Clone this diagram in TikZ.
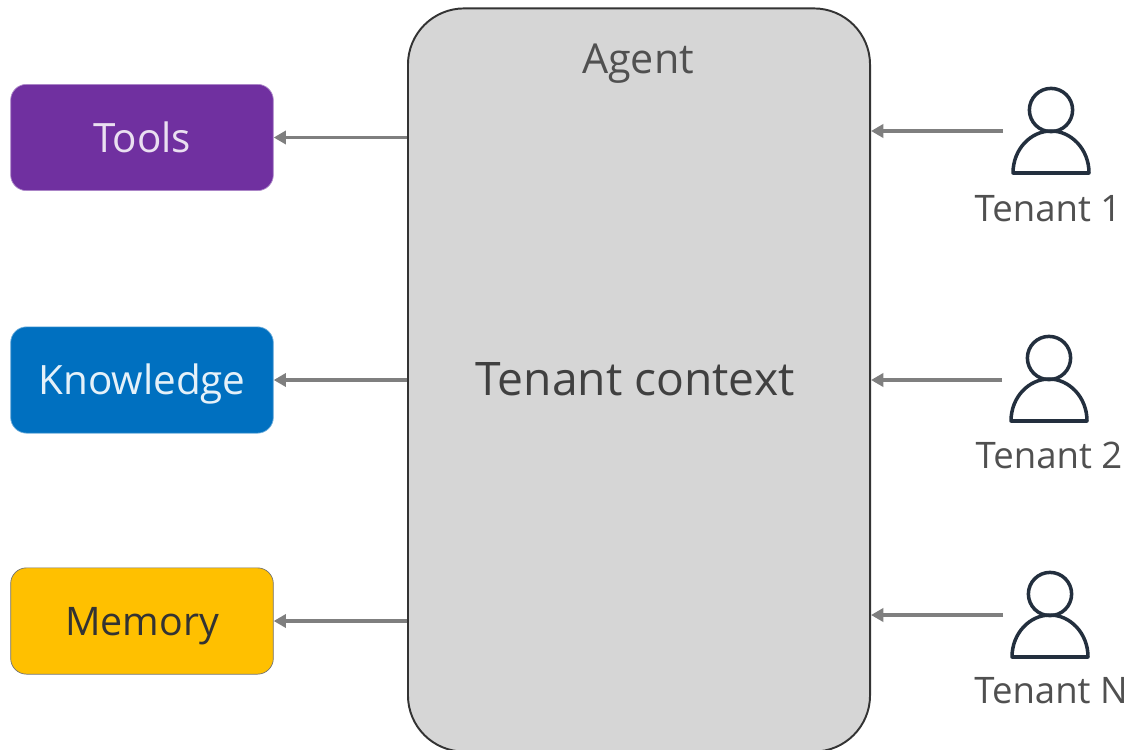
\documentclass[tikz,border=0pt]{standalone}
\usepackage{fontspec}
\setmainfont{Open Sans}
\definecolor{toolpurple}{RGB}{112,48,160}
\definecolor{knowblue}{RGB}{0,112,192}
\definecolor{memgold}{RGB}{255,192,0}
\definecolor{agentgray}{RGB}{214,214,214}
\definecolor{arrowgray}{RGB}{127,127,127}
\definecolor{iconnavy}{RGB}{35,47,62}
\definecolor{textgray}{RGB}{80,80,80}
\usetikzlibrary{arrows.meta}
\tikzset{
    resource/.style={draw=#1!55!white, rounded corners=9pt, minimum width=149.5pt, minimum height=60.5pt, inner sep=0pt, text height=17pt, text depth=0pt, font=\fontsize{23}{26}\selectfont},
    link/.style={-{Triangle[length=7pt,width=7.5pt]}, arrowgray, line width=1.9pt},
    tenantlabel/.style={font=\fontsize{20.8}{24}\selectfont, text=textgray, inner sep=0pt},
    pics/tenant/.style={code={
        \draw[iconnavy, line width=2pt] (0,-63) circle (12.3pt);
        \draw[iconnavy, line width=2pt, line join=round] (-38,0) .. controls (-38,-24) and (-20,-42) .. (0,-42) .. controls (20,-42) and (38,-24) .. (38,0) -- cycle;
    }}
}
\begin{document}
\begin{tikzpicture}[x=0.02cm, y=-0.02cm]
    \useasboundingbox (0,0) rectangle (1129,750);
    \clip (0,0) rectangle (1129,750);
    % Agent box
    \node[draw=black!80, fill=agentgray, rounded corners=32pt, line width=1.1pt, minimum width=263pt, minimum height=423pt, inner sep=0pt] (agent) at (639,380) {};
    \node[font=\fontsize{23.5}{26}\selectfont, text=textgray] (agentname) at (638,64) {Agent};
    \node[font=\fontsize{26.3}{30}\selectfont, text=black!75] (context) at (635,379) {Tenant context};

    % Resources
    \node[resource=toolpurple, fill=toolpurple, text=white!85!toolpurple] (tools) at (142,137.5) {Tools};
    \node[resource=knowblue, fill=knowblue, text=white!90!knowblue] (knowledge) at (142,380) {Knowledge};
    \node[resource=black, fill=memgold, text=black!80, font=\fontsize{22.4}{26}\selectfont] (memory) at (142,621) {Memory};

    % Tenants
    \pic at (1051,173) {tenant};
    \pic at (1049,421) {tenant};
    \pic at (1050,657) {tenant};
    \node[tenantlabel] (tenantA) at (1048,209) {Tenant 1};
    \node[tenantlabel] (tenantB) at (1049,455) {Tenant 2};
    \node[tenantlabel] (tenantN) at (1051,691) {Tenant N};
    \coordinate (startA) at (1003,131);
    \coordinate (startB) at (1002,380);
    \coordinate (startN) at (1003,615);

    % Arrows
    \draw[link] (agent.west |- tools.east) -- (tools.east);
    \draw[link] (agent.west |- knowledge.east) -- (knowledge.east);
    \draw[link] (agent.west |- memory.east) -- (memory.east);
    \draw[link] (startA) -- (agent.east |- startA);
    \draw[link] (startB) -- (agent.east |- startB);
    \draw[link] (startN) -- (agent.east |- startN);
\end{tikzpicture}
\end{document}
